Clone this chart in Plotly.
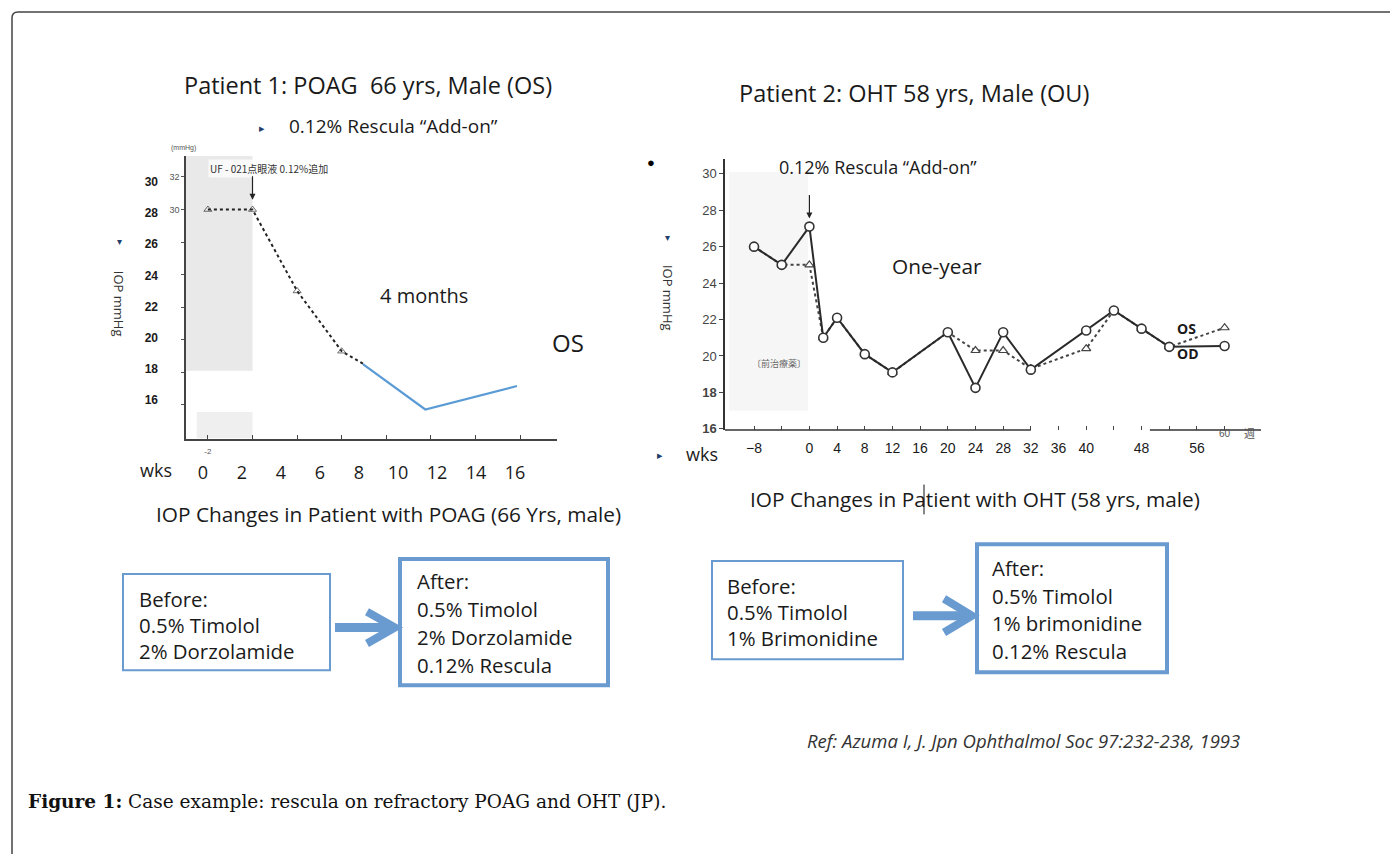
import plotly.graph_objects as go

W, H = 1390, 854


def fx(p):
    return p / W


def fy(p):
    return 1 - p / H


# ---------------- data ----------------
# Patient 1 (scanned chart scale: weeks, mmHg)
p1_weeks = [-2, 0, 2, 4, 5]
p1_iop = [30, 30, 25, 21.3, 20.5]
# Patient 1 overlay (blue) segment, drawn on the "wks" overlay scale
p1_blue_wks = [8.2, 11.4, 16.1]
p1_blue_iop = [18.3, 15.4, 16.9]
p1_scan_xticks = [-2, 0, 2, 4, 6, 8, 10, 12]
p1_scan_xtext = ['-2', '', '', '', '', '', '', '']
p1_scan_yticks = [18, 20, 22, 24, 26, 28, 30, 32]
p1_scan_ytext = ['', '', '', '', '', '', '30', '32']
p1_wks_ticks = [0, 2, 4, 6, 8, 10, 12, 14, 16]
p1_iop_ticks = [16, 18, 20, 22, 24, 26, 28, 30]

# Patient 2 (weeks, mmHg)
p2_weeks = [-8, -4, 0, 2, 4, 8, 12, 20, 24, 28, 32, 40, 44, 48, 52, 60]
p2_od = [26.0, 25.0, 27.1, 21.0, 22.1, 20.1, 19.1, 21.3, 18.25, 21.3, 19.25, 21.4, 22.5, 21.5, 20.5, 20.55]
p2_os = [26.0, 25.0, 25.0, 21.0, 22.1, 20.1, 19.1, 21.3, 20.3, 20.3, 19.3, 20.4, 22.5, 21.5, 20.5, 21.55]
p2_xticks = [-8, -4, 0, 4, 8, 12, 16, 20, 24, 28, 32, 36, 40, 44, 48, 52, 56, 60]
p2_xtext = ['\u22128', '', '0', '4', '8', '12', '16', '20', '24', '28', '32', '36', '40', '', '48', '', '56', '']
p2_yticks = [16, 18, 20, 22, 24, 26, 28, 30]
p2_ytext = ['<b>16</b>', '<b>18</b>', '20', '22', '24', '26', '28', '30']

box_before_1 = ['Before:', '0.5% Timolol', '2% Dorzolamide']
box_after_1 = ['After:', '0.5% Timolol', '2% Dorzolamide', '0.12% Rescula']
box_before_2 = ['Before:', '0.5% Timolol', '1% Brimonidine']
box_after_2 = ['After:', '0.5% Timolol', '1% brimonidine', '0.12% Rescula']

BLUE = '#5b9bd5'
BOXBLUE = '#6a9bd0'
INK = '#1a1a1a'
SANS = 'Open Sans'

fig = go.Figure()

fig.add_trace(go.Scatter(
    x=p1_weeks, y=p1_iop, mode='lines+markers', xaxis='x', yaxis='y',
    line=dict(color='#222', width=2, dash='dot'),
    marker=dict(symbol='triangle-up-open', size=[7, 7, 7, 7, 0], color='#333', line=dict(width=1)),
    hoverinfo='skip'))
fig.add_trace(go.Scatter(
    x=p1_blue_wks, y=p1_blue_iop, mode='lines', xaxis='x3', yaxis='y3',
    line=dict(color=BLUE, width=2.2), hoverinfo='skip'))
fig.add_trace(go.Scatter(
    x=p2_weeks, y=p2_os, mode='lines+markers', xaxis='x2', yaxis='y2',
    line=dict(color='#444', width=2, dash='dot'),
    marker=dict(symbol='triangle-up', size=8, color='white', line=dict(color='#444', width=1.2)),
    hoverinfo='skip'))
fig.add_trace(go.Scatter(
    x=p2_weeks, y=p2_od, mode='lines+markers', xaxis='x2', yaxis='y2',
    line=dict(color='#2a2a2a', width=2),
    marker=dict(symbol='circle', size=9, color='white', line=dict(color='#333', width=1.6)),
    hoverinfo='skip'))

axis_common = dict(showgrid=False, zeroline=False, fixedrange=True)

fig.update_layout(
    width=W, height=H, margin=dict(l=0, r=0, t=0, b=0),
    paper_bgcolor='white', plot_bgcolor='white', showlegend=False,
    xaxis=dict(domain=[fx(186), fx(557)], range=[-2.982, 13.655], anchor='y',
               showline=True, linecolor='#444', linewidth=1.5,
               ticks='inside', ticklen=4, tickcolor='#444',
               tickvals=p1_scan_xticks, ticktext=p1_scan_xtext, ticklabelstandoff=4,
               tickfont=dict(size=8, color='#555', family='Liberation Sans'), **axis_common),
    yaxis=dict(domain=[fy(442), fy(157)], range=[15.915, 33.293], anchor='x',
               showline=True, linecolor='#444', linewidth=1.5,
               ticks='outside', ticklen=3, tickcolor='#555',
               tickvals=p1_scan_yticks, ticktext=p1_scan_ytext,
               tickfont=dict(size=9, color='#555', family='Liberation Sans'), **axis_common),
    xaxis3=dict(overlaying='x', anchor='free', position=fy(463), range=[-0.872, 18.154],
                showline=False, ticks='', tickvals=p1_wks_ticks,
                tickfont=dict(size=18, color=INK, family=SANS), **axis_common),
    yaxis3=dict(overlaying='y', anchor='free', position=fx(158), side='left', range=[13.513, 31.655],
                showline=False, ticks='', tickvals=p1_iop_ticks,
                ticktext=['<b>%d</b>' % v for v in p1_iop_ticks],
                tickfont=dict(size=12, color=INK, family='Liberation Sans'), **axis_common),
    xaxis2=dict(domain=[fx(725), fx(1261)], range=[-12.197, 65.26], anchor='y2',
                showline=False, ticks='inside', ticklen=4, tickcolor='#444',
                tickvals=p2_xticks, ticktext=p2_xtext, ticklabelstandoff=8,
                tickfont=dict(size=14, color=INK, family='Liberation Sans'), **axis_common),
    yaxis2=dict(domain=[fy(433), fy(160)], range=[15.94, 30.817], anchor='x2',
                showline=True, linecolor='#333', linewidth=1.5,
                ticks='outside', ticklen=4, tickcolor='#444',
                tickvals=p2_yticks, ticktext=p2_ytext,
                tickfont=dict(size=13, color='#444', family='Liberation Sans'), **axis_common),
)

shapes = []
# shaded pre-treatment periods
shapes.append(dict(type='rect', xref='x', yref='y', x0=-2.982, x1=0, y0=20.1, y1=33.29,
                   fillcolor='#e9e9e9', line=dict(width=0), layer='below'))
shapes.append(dict(type='rect', xref='x', yref='y', x0=-2.5, x1=0, y0=15.95, y1=17.56,
                   fillcolor='#efefef', line=dict(width=0), layer='below'))
shapes.append(dict(type='rect', xref='x2', yref='y2', x0=-11.6, x1=-0.2, y0=17.0, y1=30.1,
                   fillcolor='#f6f6f6', line=dict(width=0), layer='below'))
# Patient 2 baseline (broken)
shapes.append(dict(type='line', xref='x2', yref='y2 domain', x0=-12.197, x1=32, y0=0, y1=0,
                   line=dict(color='#333', width=1.5)))
shapes.append(dict(type='line', xref='x2', yref='y2 domain', x0=49.2, x1=65.26, y0=0, y1=0,
                   line=dict(color='#333', width=1.5)))


def rect(x0, y0, x1, y1, w):
    return dict(type='rect', xref='paper', yref='paper', x0=fx(x0), x1=fx(x1), y0=fy(y1), y1=fy(y0),
                line=dict(color=BOXBLUE, width=w), fillcolor='rgba(0,0,0,0)')


shapes += [rect(123, 578, 330, 675, 2), rect(400, 563, 608, 690, 4),
           rect(712, 565, 903, 664, 2), rect(977, 548, 1167, 677, 4)]


def block_arrow(x0, x1, yc, half):
    tip = x1
    back = x1 - 28
    return [
        dict(type='line', xref='paper', yref='paper', x0=fx(x0), x1=fx(tip - 4), y0=fy(yc), y1=fy(yc),
             line=dict(color=BOXBLUE, width=9)),
        dict(type='path', xref='paper', yref='paper',
             path='M %f,%f L %f,%f L %f,%f' % (fx(back), fy(yc - half), fx(tip), fy(yc), fx(back), fy(yc + half)),
             line=dict(color=BOXBLUE, width=8), fillcolor='rgba(0,0,0,0)'),
    ]


shapes += block_arrow(335, 395, 632, 16)
shapes += block_arrow(913, 972, 620, 17)

# outer rounded frame
shapes.append(dict(type='path', xref='paper', yref='paper',
                   path='M %f,%f L %f,%f Q %f,%f %f,%f L %f,%f' % (
                       fx(12), fy(870), fx(12), fy(18), fx(12), fy(12), fx(18), fy(12), fx(1410), fy(12)),
                   line=dict(color='#444', width=1.5), fillcolor='rgba(0,0,0,0)'))
# text cursor artifact
shapes.append(dict(type='line', xref='paper', yref='paper', x0=fx(924), x1=fx(924), y0=fy(488), y1=fy(518),
                   line=dict(color='#111', width=1)))

fig.update_layout(shapes=shapes)

ann = []


def txt(x, y, s, size, color=INK, family=SANS, xanchor='center', **kw):
    d = dict(x=fx(x), y=fy(y), xref='paper', yref='paper', text=s, showarrow=False,
             font=dict(size=size, color=color, family=family), xanchor=xanchor, yanchor='middle')
    d.update(kw)
    return d


# Patient 1
ann.append(txt(368, 86, 'Patient 1: POAG  66 yrs, Male (OS)', 23.5))
ann.append(txt(262, 128, '\u25b8', 11, color='#1f3f6e'))
ann.append(txt(287, 127, '0.12% Rescula \u201cAdd-on\u201d', 19, xanchor='left'))
ann.append(txt(183, 149, '(mmHg)', 7, color='#555', family='Liberation Sans'))
ann.append(txt(208, 170, 'UF - 021点眼液 0.12%追加', 10, color='#333', family='Noto Sans CJK JP',
               xanchor='left', bgcolor='rgba(255,255,255,0.7)'))
ann.append(dict(x=0, y=30.6, xref='x', yref='y', ax=0, ay=-25, text='', showarrow=True,
                arrowhead=2, arrowsize=1, arrowwidth=1.2, arrowcolor='#222'))
ann.append(txt(424, 298, '4 months', 20))
ann.append(txt(568, 345, 'OS', 24))
ann.append(txt(119, 306, 'IOP mmHg', 13, color='#333', textangle=90))
ann.append(txt(119, 243, '\u25be', 10, color='#1f3f6e'))
ann.append(txt(156, 473, 'wks', 18))
ann.append(txt(388, 518, 'IOP Changes in Patient with POAG (66 Yrs, male)', 20.8))

# Patient 2
ann.append(txt(914, 94, 'Patient 2: OHT 58 yrs, Male (OU)', 23.5))
ann.append(txt(651, 163, '\u25cf', 13, color='#000'))
ann.append(txt(878, 168, '0.12% Rescula \u201cAdd-on\u201d', 18))
ann.append(dict(x=0, y=27.55, xref='x2', yref='y2', ax=0, ay=-25, text='', showarrow=True,
                arrowhead=2, arrowsize=1, arrowwidth=1.2, arrowcolor='#222'))
ann.append(txt(937, 268, 'One-year', 20.8))
ann.append(txt(1186, 331, '<b>OS</b>', 14))
ann.append(txt(1188, 356, '<b>OD</b>', 14))
ann.append(txt(779, 366, '〔前治療薬〕', 9, color='#666', family='Noto Sans CJK JP'))
ann.append(txt(668, 300, 'IOP mmHg', 13, color='#333', textangle=90))
ann.append(txt(667, 239, '\u25be', 10, color='#1f3f6e'))
ann.append(txt(660, 458, '\u25b8', 11, color='#1f3f6e'))
ann.append(txt(702, 457, 'wks', 18))
ann.append(dict(x=60, y=fy(437), xref='x2', yref='paper', text='60', showarrow=False,
                font=dict(size=10, color='#555', family='Liberation Sans'), xanchor='center', yanchor='middle'))
ann.append(txt(1249, 436, '週', 11, color='#555', family='Noto Sans CJK JP'))
ann.append(txt(975, 503, 'IOP Changes in Patient with OHT (58 yrs, male)', 20.8))


def box_text(lines, x, y0, step):
    return [txt(x, y0 + i * step, s, 20.4, xanchor='left') for i, s in enumerate(lines)]


ann += box_text(box_before_1, 137, 603, 26.5)
ann += box_text(box_after_1, 415, 585, 28.3)
ann += box_text(box_before_2, 725, 590, 26.5)
ann += box_text(box_after_2, 990, 572, 27.8)

ann.append(txt(805, 746, '<i>Ref: Azuma I, J. Jpn Ophthalmol Soc 97:232-238, 1993</i>', 18.5,
               color='#333', xanchor='left'))
ann.append(txt(26, 807, '<b>Figure 1:</b> Case example: rescula on refractory POAG and OHT (JP).', 18.5,
               color='#111', family='DejaVu Serif', xanchor='left'))

fig.update_layout(annotations=ann)

fig.write_html('out.html', config={'displayModeBar': False},
               post_script="document.body.style.margin='0px';")
